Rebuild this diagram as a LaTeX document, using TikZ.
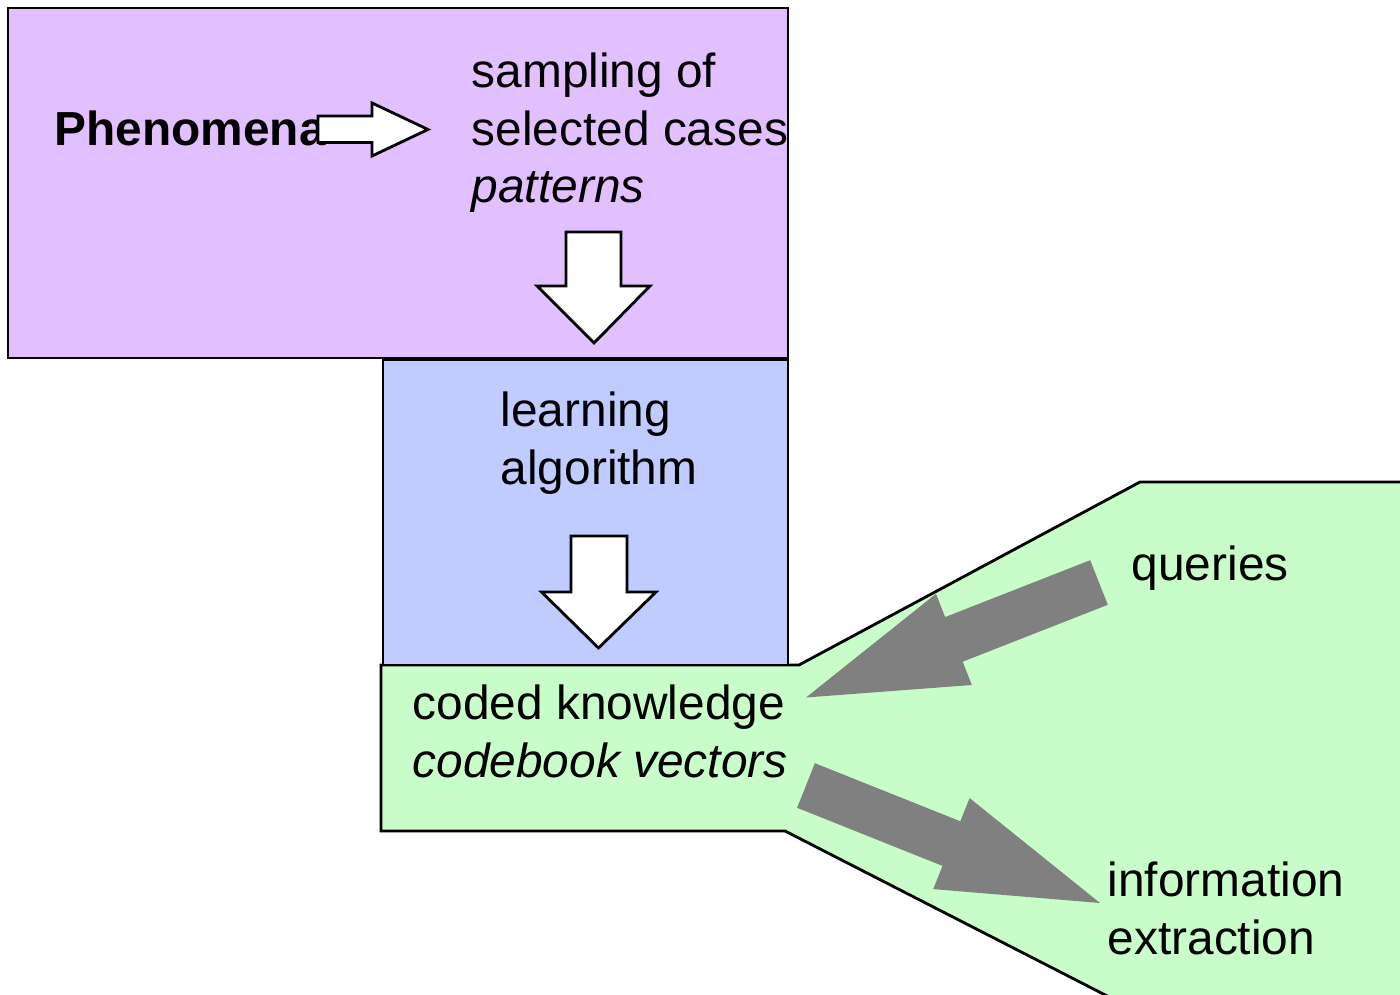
\documentclass[tikz,border=0pt]{standalone}
\usepackage{fontspec}
\setmainfont{Liberation Sans}
\definecolor{phenpurple}{HTML}{E2BFFF}
\definecolor{learnblue}{HTML}{C0CCFF}
\definecolor{codegreen}{HTML}{C8FCC8}
\tikzset{
  box/.style={draw=black, line width=0.8pt},
  whitearrow/.style={draw=black, fill=white, line width=0.8pt},
  grayarrow/.style={fill=gray},
  lbl/.style={anchor=north west, inner sep=0pt, align=left, font=\fontsize{13.6}{16.4}\selectfont}
}

\begin{document}
\begin{tikzpicture}[x=0.01cm, y=-0.01cm]
  \useasboundingbox (0,0) rectangle (1400,995);
  % boxes
  \filldraw [box, fill=codegreen] (381,665) -- (799,665) -- (1140,482) -- (1420,482) -- (1420,1020) -- (1154,1020) -- (785,831) -- (381,831) -- cycle;
  \filldraw [box, fill=phenpurple] (8,8) rectangle (788,358);
  \filldraw [box, fill=learnblue] (383,360) rectangle (788,665);
  % texts
  \node [lbl] (phen) at (54,110) {\textbf{Phenomena}};
  \node [lbl] (samp) at (471,52) {sampling of\\selected cases\\\textit{patterns}};
  \node [lbl] (learn) at (500,391) {learning\\algorithm};
  \node [lbl] (coded) at (412,684) {coded knowledge\\\textit{codebook vectors}};
  \node [lbl] (queries) at (1131,545) {queries};
  \node [lbl] (extract) at (1107,861) {information\\extraction};
  % white arrows
  \filldraw [whitearrow] (318,116) -- (372,116) -- (372,103) -- (428,129.5) -- (372,156) -- (372,142.5) -- (318,142.5) -- cycle;
  \filldraw [whitearrow] (566,232) -- (621,232) -- (621,286) -- (650,286) -- (594,343) -- (537,286) -- (566,286) -- cycle;
  \filldraw [whitearrow] (571,536) -- (627,536) -- (627,592) -- (656,592) -- (598.5,648) -- (541.5,592) -- (571,592) -- cycle;
  % gray arrows
  \fill [grayarrow] (1090.2,560.2) -- (945.1,617.1) -- (936.0,593.8) -- (806,697.5) -- (971.8,685.0) -- (962.7,661.7) -- (1107.8,604.8) -- cycle;
  \fill [grayarrow] (814.9,763.2) -- (960.3,821.3) -- (969.6,798.1) -- (1100,903) -- (933.2,889.1) -- (942.5,865.9) -- (797.1,807.8) -- cycle;
\end{tikzpicture}
\end{document}
